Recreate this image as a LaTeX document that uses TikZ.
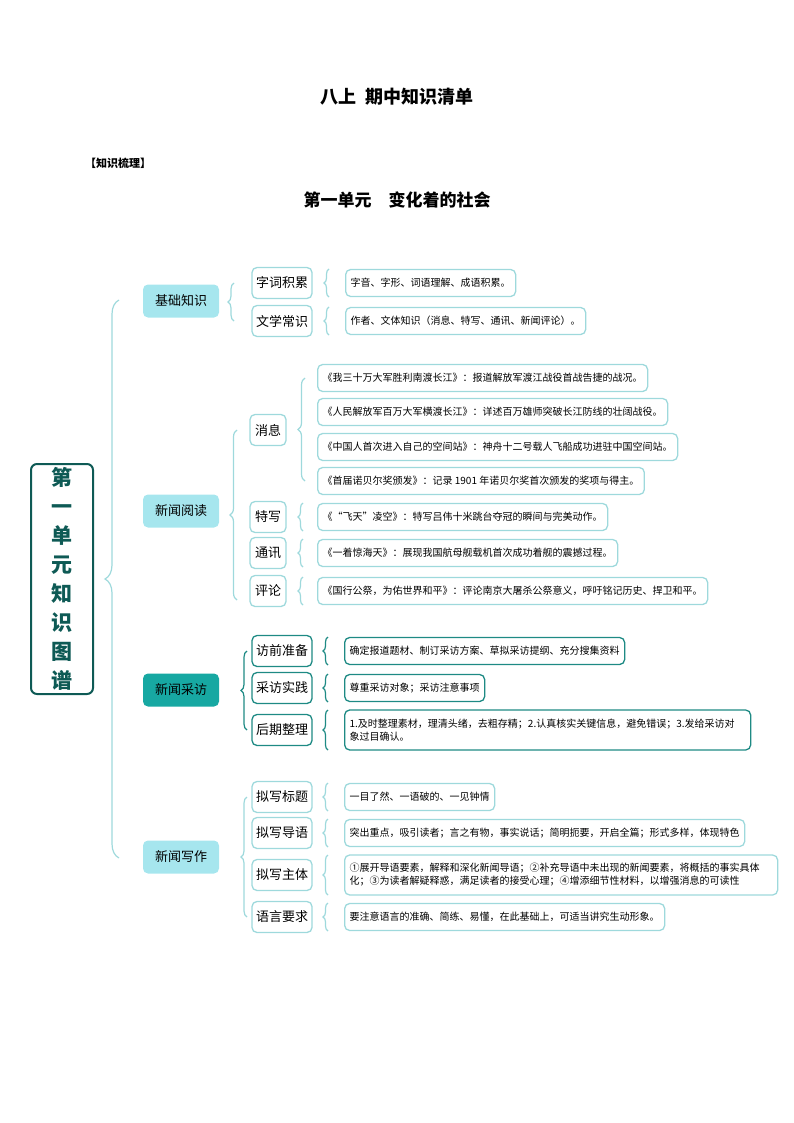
\documentclass[tikz,border=0pt]{standalone}
\usepackage{fontspec}
\setmainfont{Noto Sans CJK SC}
\usetikzlibrary{decorations.pathreplacing}
\definecolor{lt}{HTML}{9ED9DC}
\definecolor{ltfill}{HTML}{A6E6EE}
\definecolor{dk}{HTML}{1E8A84}
\definecolor{dkfill}{HTML}{17A8A2}
\definecolor{root}{HTML}{0E5A55}
\begin{document}
\begin{tikzpicture}[x=1pt,y=-1pt,
  l1/.style={draw=none,fill=ltfill,rounded corners=5pt,minimum width=76pt,minimum height=33pt,font=\fontsize{13}{15}\selectfont},
  l2/.style={draw=lt,line width=1.3pt,fill=white,rounded corners=5pt,minimum height=31pt,inner xsep=4pt,font=\fontsize{13}{15}\selectfont},
  l2d/.style={l2,draw=dk},
  ct/.style={draw=lt,line width=1.3pt,rounded corners=5pt,minimum height=27pt,anchor=west,inner xsep=5pt,font=\fontsize{10}{13}\selectfont},
  ctd/.style={ct,draw=dk},
  br/.style={draw=lt,line width=1.2pt,decorate,decoration={brace,amplitude=#1}},
  brd/.style={draw=dk,line width=1.2pt,decorate,decoration={brace,amplitude=#1}}]
\useasboundingbox (0,0) rectangle (794,1123);
\node[font=\bfseries\fontsize{18}{20}\selectfont] (t) at (397,97) {八上\ \ 期中知识清单};
\node[font=\bfseries\fontsize{11}{13}\selectfont] (k) at (118,163) {【知识梳理】};
\node[font=\bfseries\fontsize{17}{19}\selectfont] (u) at (397,200) {第一单元\quad 变化着的社会};
\node[draw=root,line width=2pt,rounded corners=6pt,minimum width=62pt,minimum height=230pt,text=root,font=\bfseries\fontsize{21}{29}\selectfont,align=center] (r) at (62,579) {第\\一\\单\\元\\知\\识\\图\\谱};
% level 1
\node[l1] (a) at (181,301) {基础知识};
\node[l1] (b) at (181,511) {新闻阅读};
\node[l1,fill=dkfill] (c) at (181,690) {新闻采访};
\node[l1] (d) at (181,857) {新闻写作};
\draw[br=14pt] (119,858) -- (119,300);
% 基础知识
\node[l2] (a1) at (282,283) {字词积累};
\node[l2] (a2) at (282,321) {文学常识};
\draw[br=6pt] (234,321) -- (234,283);
\node[ct] (a1c) at (345,283) {字音、字形、词语理解、成语积累。};
\node[ct] (a2c) at (345,321) {作者、文体知识（消息、特写、通讯、新闻评论）。};
\draw[br=5pt] (329,297) -- (329,269);
\draw[br=5pt] (329,335) -- (329,307);
% 新闻阅读
\node[l2,minimum width=36pt] (b1) at (268,430) {消息};
\node[l2,minimum width=36pt] (b2) at (268,517) {特写};
\node[l2,minimum width=36pt] (b3) at (268,553) {通讯};
\node[l2,minimum width=36pt] (b4) at (268,591) {评论};
\draw[br=7pt] (237,600) -- (237,430);
\node[ct] (b11) at (317,378) {《我三十万大军胜利南渡长江》：报道解放军渡江战役首战告捷的战况。};
\node[ct] (b12) at (317,412) {《人民解放军百万大军横渡长江》：详述百万雄师突破长江防线的壮阔战役。};
\node[ct] (b13) at (317,447) {《中国人首次进入自己的空间站》：神舟十二号载人飞船成功进驻中国空间站。};
\node[ct] (b14) at (317,481) {《首届诺贝尔奖颁发》：记录 1901 年诺贝尔奖首次颁发的奖项与得主。};
\draw[br=7pt] (305,481) -- (305,378);
\node[ct] (b2c) at (317,517) {《“飞天”凌空》：特写吕伟十米跳台夺冠的瞬间与完美动作。};
\node[ct] (b3c) at (317,553) {《一着惊海天》：展现我国航母舰载机首次成功着舰的震撼过程。};
\node[ct] (b4c) at (317,591) {《国行公祭，为佑世界和平》：评论南京大屠杀公祭意义，呼吁铭记历史、捍卫和平。};
\draw[br=5pt] (303,531) -- (303,503);
\draw[br=5pt] (303,567) -- (303,539);
\draw[br=5pt] (303,605) -- (303,577);
% 新闻采访
\node[l2d] (c1) at (282,651) {访前准备};
\node[l2d] (c2) at (282,688) {采访实践};
\node[l2d] (c3) at (282,730) {后期整理};
\draw[brd=6pt] (247,730) -- (247,651);
\node[ctd] (c1c) at (344,651) {确定报道题材、制订采访方案、草拟采访提纲、充分搜集资料};
\node[ctd] (c2c) at (344,688) {尊重采访对象；采访注意事项};
\node[ctd,text width=396pt,align=left,minimum height=40pt] (c3c) at (344,730) {1.及时整理素材，理清头绪，去粗存精；2.认真核实关键信息，避免错误；3.发给采访对\\象过目确认。};
\draw[brd=5pt] (328,665) -- (328,637);
\draw[brd=5pt] (328,702) -- (328,674);
\draw[brd=5pt] (328,750) -- (328,710);
% 新闻写作
\node[l2] (d1) at (282,797) {拟写标题};
\node[l2] (d2) at (282,833) {拟写导语};
\node[l2] (d3) at (282,875) {拟写主体};
\node[l2] (d4) at (282,917) {语言要求};
\draw[br=6pt] (247,917) -- (247,797);
\node[ct] (d1c) at (344,797) {一目了然、一语破的、一见钟情};
\node[ct] (d2c) at (344,833) {突出重点，吸引读者；言之有物，事实说话；简明扼要，开启全篇；形式多样，体现特色};
\node[ct,text width=423pt,align=left,minimum height=40pt] (d3c) at (344,875) {①展开导语要素，解释和深化新闻导语；②补充导语中未出现的新闻要素，将概括的事实具体\\化；③为读者解疑释惑，满足读者的接受心理；④增添细节性材料，以增强消息的可读性};
\node[ct] (d4c) at (344,917) {要注意语言的准确、简练、易懂，在此基础上，可适当讲究生动形象。};
\draw[br=5pt] (328,811) -- (328,783);
\draw[br=5pt] (328,847) -- (328,819);
\draw[br=5pt] (328,895) -- (328,855);
\draw[br=5pt] (328,931) -- (328,903);
\end{tikzpicture}
\end{document}
